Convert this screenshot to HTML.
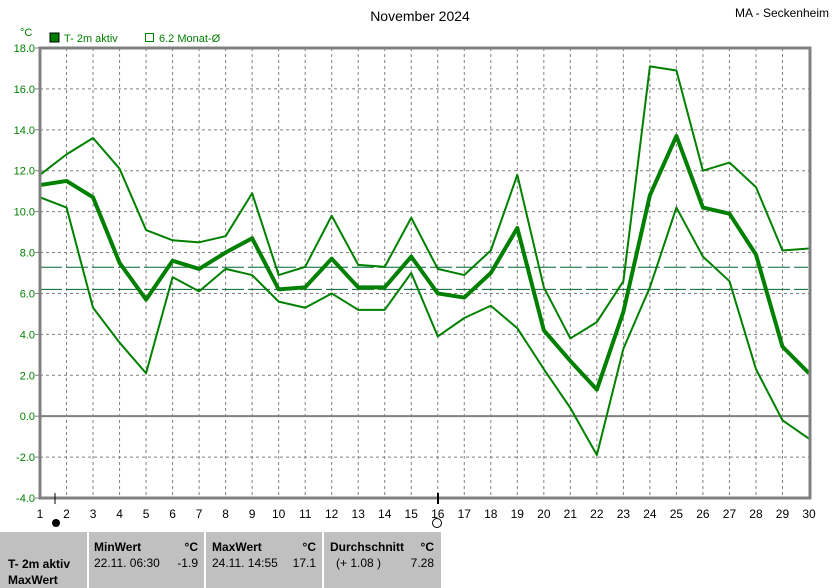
<!DOCTYPE html>
<html><head><meta charset="utf-8"><style>
body{margin:0;background:#fff;width:835px;height:588px;overflow:hidden;font-family:"Liberation Sans",sans-serif;}
svg{position:absolute;left:0;top:0}
</style></head><body>
<svg id="chart" width="835" height="588" xmlns="http://www.w3.org/2000/svg" font-family="Liberation Sans, sans-serif">
<text x="420" y="21" font-size="14" text-anchor="middle" fill="#000">November 2024</text>
<text x="829" y="17" font-size="12" text-anchor="end" fill="#000">MA - Seckenheim</text>
<text x="20" y="36" font-size="11" fill="#008000">°C</text>
<rect x="50" y="33" width="9" height="9" fill="#008000" stroke="#000"/>
<text x="64" y="42" font-size="11" fill="#008000">T- 2m aktiv</text>
<rect x="145.5" y="33.5" width="8" height="8" fill="none" stroke="#008000"/>
<text x="159" y="42" font-size="11" fill="#008000">6.2 Monat-Ø</text>
<g id="grid"></g><g id="series"></g><g id="axes"></g>
<g>
<rect x="0" y="532" width="441" height="56" fill="#c0c0c0"/>
<rect x="87" y="532" width="2" height="56" fill="#fff"/>
<rect x="204" y="532" width="2" height="56" fill="#fff"/>
<rect x="322" y="532" width="2" height="56" fill="#fff"/>
<rect x="441" y="532" width="2" height="56" fill="#fff"/>
<g font-size="12" fill="#000">
<text x="8" y="568" font-weight="bold">T- 2m aktiv</text>
<text x="8" y="584" font-weight="bold">MaxWert</text>
<text x="94" y="551" font-weight="bold">MinWert</text><text x="198" y="551" font-weight="bold" text-anchor="end">°C</text>
<text x="94" y="567">22.11.  06:30</text><text x="198" y="567" text-anchor="end">-1.9</text>
<text x="212" y="551" font-weight="bold">MaxWert</text><text x="316" y="551" font-weight="bold" text-anchor="end">°C</text>
<text x="212" y="567">24.11.  14:55</text><text x="316" y="567" text-anchor="end">17.1</text>
<text x="330" y="551" font-weight="bold">Durchschnitt</text><text x="434" y="551" font-weight="bold" text-anchor="end">°C</text>
<text x="336" y="567">(+ 1.08 )</text><text x="434" y="567" text-anchor="end">7.28</text>
</g></g>
</svg>
<script>
const days=[1,2,3,4,5,6,7,8,9,10,11,12,13,14,15,16,17,18,19,20,21,22,23,24,25,26,27,28,29,30];
const maxVals=[11.8,12.8,13.6,12.1,9.1,8.6,8.5,8.8,10.9,6.9,7.3,9.8,7.4,7.3,9.7,7.2,6.9,8.1,11.8,6.3,3.8,4.6,6.6,17.1,16.9,12.0,12.4,11.2,8.1,8.2];
const meanVals=[11.3,11.5,10.7,7.5,5.7,7.6,7.2,8.0,8.7,6.2,6.3,7.7,6.3,6.3,7.8,6.0,5.8,7.0,9.2,4.2,2.7,1.3,5.1,10.8,13.7,10.2,9.9,7.9,3.4,2.1];
const minVals=[10.7,10.2,5.3,3.6,2.1,6.8,6.1,7.2,6.9,5.6,5.3,6.0,5.2,5.2,7.0,3.9,4.8,5.4,4.3,2.3,0.4,-1.9,3.3,6.3,10.2,7.8,6.6,2.3,-0.2,-1.1];
const yTicks=[-4,-2,0,2,4,6,8,10,12,14,16,18];
const refLines=[7.28,6.2];
const NS="http://www.w3.org/2000/svg";
const X=d=>40+(d-1)*(769/29);
const Y=v=>498-(v+4)*(450/22);
function mk(p,t,a){const e=document.createElementNS(NS,t);for(const k in a)e.setAttribute(k,a[k]);document.getElementById(p).appendChild(e);return e;}
days.forEach(d=>{if(d>1&&d<30){const l=mk('grid','line',{x1:X(d),x2:X(d),y1:48,y2:498,stroke:'#808080','stroke-dasharray':'3,3'});

}
const t=mk('axes','text',{x:X(d),y:518,'font-size':12,'text-anchor':'middle',fill:'#000'});t.textContent=d;

});
yTicks.forEach(v=>{if(v>-4&&v<18&&v!==0){const l=mk('grid','line',{x1:40,x2:810,y1:Y(v),y2:Y(v),stroke:'#808080','stroke-dasharray':'3,3'});

}
const t=mk('axes','text',{x:35,y:Y(v)+4,'font-size':11,'text-anchor':'end',fill:'#008000'});t.textContent=v.toFixed(1);


mk('axes','line',{x1:35,x2:40,y1:Y(v),y2:Y(v),stroke:'#808080'});});
const z=mk('grid','line',{x1:40,x2:810,y1:Y(0),y2:Y(0),stroke:'#808080','stroke-width':2});


refLines.forEach(v=>{const l=mk('grid','line',{x1:40,x2:808,y1:Y(v),y2:Y(v),stroke:'#006633','stroke-dasharray':'22,4'});

});
function series(vals,w,name){const p=mk('series','polyline',{points:vals.map((v,i)=>X(days[i])+','+Y(v)).join(' '),fill:'none',stroke:'#008000','stroke-width':w,'stroke-linejoin':'round'});

}
series(maxVals,2,'max-temp-line');series(minVals,2,'min-temp-line');series(meanVals,4,'mean-temp-line');
const fr=mk('axes','path',{d:'M40,48 H810 V498 H40 Z',fill:'none',stroke:'#808080','stroke-width':3});


mk('axes','line',{x1:55,x2:55,y1:493,y2:504,stroke:'#000'});
mk('axes','line',{x1:438,x2:438,y1:493,y2:504,stroke:'#000','stroke-width':2});
const m1=mk('axes','circle',{cx:56,cy:523,r:4,fill:'#000'});


const m2=mk('axes','circle',{cx:437,cy:523,r:4.5,fill:'#fff',stroke:'#000'});


</script>
</body></html>
